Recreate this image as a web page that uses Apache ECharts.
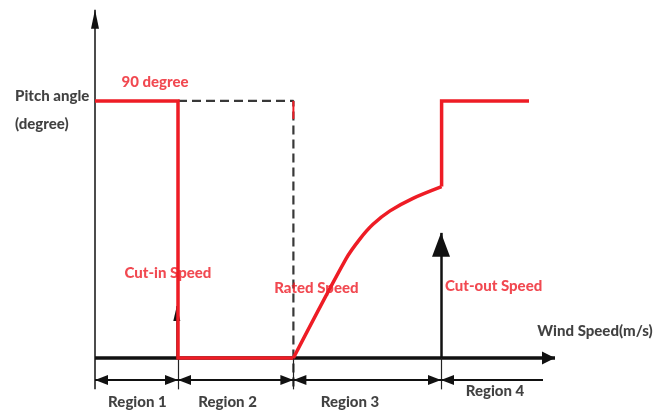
<!DOCTYPE html>
<html><head><meta charset="utf-8">
<script src="https://cdn.jsdelivr.net/npm/echarts@6/dist/echarts.min.js"></script>
<style>html,body{margin:0;padding:0;background:#fff}#c{width:663px;height:410px}</style>
</head><body><div id="c"></div>
<script>
// ---- data (schematic units: wind speed on x, pitch angle in degrees on y) ----
const cutInSpeed = 4.15;
const ratedSpeed = 9.92;
const cutOutSpeed = 17.3;
const maxPitch = 90;
const windSpeed  = [0, 4.15, 4.15, 9.92, 12.55, 13.25, 13.9, 14.75, 15.9, 17.33, 17.33, 21.7];
const pitchAngle = [90, 90, 0, 0, 34.7, 41.7, 46.8, 51.5, 55.9, 60.0, 90, 90];
const regionBounds = [0, 4.15, 9.92, 17.3, 22.4];
const regionNames = ['Region 1', 'Region 2', 'Region 3', 'Region 4'];
const regionLabelX = [2.12, 6.63, 12.75, 20.0];
const regionLabelY = [-15.4, -15.4, -15.4, -11.6];
const regionArrowY = -7.7;
const regionDividerBottom = -11;
const annotationText = ['90 degree', 'Cut-in Speed', 'Rated Speed', 'Cut-out Speed', 'Wind Speed(m/s)', 'Pitch angle', '(degree)'];
const annotationX = [3.0, 3.65, 11.07, 19.93, 25.0, -4.0, -4.0];
const annotationY = [96.6, 29.6, 24.5, 25.0, 9.3, 91.8, 82.0];
const annotationRed = [true, true, true, true, false, false, false];
const yAxisTop = 121.9;
const xAxisEnd = 23.0;
const cutInArrowTop = 18.2;
const cutOutArrowTop = 43.8;
const ratedTickBottom = 83.7;

const RED = '#ee1c25';
const BLACK = '#111';
const FONT = 'Lato';

function seg(from, to, s0, s1, size0, size1, width, color) {
  const ls = { color: color || BLACK, width: width, type: 'solid', cap: 'butt' };
  return [
    { coord: from, symbol: s0 || 'none', symbolSize: size0 || 1, symbolOffset: [0, '50%'], lineStyle: ls },
    { coord: to, symbol: s1 || 'none', symbolSize: size1 || 1, symbolOffset: [0, '50%'], lineStyle: ls }
  ];
}

const arrowLines = [];
arrowLines.push(seg([0, regionDividerBottom], [0, yAxisTop], 'none', 'triangle', 1, [8, 19], 1.5));
arrowLines.push(seg([0, 0], [xAxisEnd, 0], 'none', 'triangle', 1, [13, 13], 3.5));
arrowLines.push(seg([cutInSpeed - 0.06, 0], [cutInSpeed - 0.06, cutInArrowTop], 'none', 'triangle', 1, [7, 15], 1.5));
arrowLines.push(seg([cutOutSpeed, 0], [cutOutSpeed, cutOutArrowTop], 'none', 'triangle', 1, [18, 24], 2.5));
for (let i = 1; i < 4; i++) {
  arrowLines.push(seg([regionBounds[i], 0], [regionBounds[i], regionDividerBottom], 'none', 'none', 1, 1, 1.2, '#222'));
}
for (let i = 0; i < 4; i++) {
  const last = i === 3;
  arrowLines.push(seg([regionBounds[i], regionArrowY], [regionBounds[i + 1], regionArrowY],
    'triangle', last ? 'none' : 'triangle', [10, 13], [10, 13], 2));
}

const annotations = annotationText.map((t, i) => ({
  name: t,
  value: [annotationX[i], annotationY[i]],
  label: {
    color: annotationRed[i] ? RED : BLACK,
    align: i >= 5 ? 'left' : 'center'
  }
}));
regionNames.forEach((t, i) => annotations.push({
  name: t,
  value: [regionLabelX[i], regionLabelY[i]],
  label: { color: BLACK, align: 'center' }
}));

const pts = windSpeed.map((w, i) => [w, pitchAngle[i]]);
const redLine = { color: RED, width: 3.5, join: 'miter' };

const chart = echarts.init(document.getElementById('c'), null, { renderer: 'canvas' });
chart.setOption({
  animation: false,
  backgroundColor: '#fff',
  grid: { left: 15, right: 28, top: 1, height: 408.35 },
  xAxis: { type: 'value', min: -4, max: 27, show: false },
  yAxis: { type: 'value', min: -18, max: 125, show: false },
  series: [
    {
      name: 'frame', type: 'line', data: [], z: 2, silent: true, clip: false,
      markLine: {
        silent: true, animation: false, symbol: 'none',
        label: { show: false },
        emphasis: { disabled: true },
        data: arrowLines
      }
    },
    {
      name: 'rated dashed', type: 'line', z: 3, silent: true, clip: false, symbol: 'none',
      data: [[cutInSpeed, maxPitch], [ratedSpeed, maxPitch], [ratedSpeed, regionDividerBottom]],
      lineStyle: { color: '#383838', width: 2.2, type: [9, 5] }
    },
    {
      name: 'rated tick', type: 'line', z: 4, silent: true, clip: false, symbol: 'none',
      data: [[ratedSpeed, maxPitch], [ratedSpeed, ratedTickBottom]],
      lineStyle: { color: RED, width: 2 }
    },
    {
      name: 'pitch low', type: 'line', z: 5, silent: true, clip: false, symbol: 'none',
      data: pts.slice(0, 4), lineStyle: redLine
    },
    {
      name: 'pitch curve', type: 'line', z: 5, silent: true, clip: false, symbol: 'none',
      smooth: 0.3,
      data: pts.slice(3, 10), lineStyle: redLine
    },
    {
      name: 'pitch high', type: 'line', z: 5, silent: true, clip: false, symbol: 'none',
      data: pts.slice(9), lineStyle: redLine
    },
    {
      name: 'text', type: 'scatter', z: 6, silent: true, clip: false,
      symbolSize: 1, itemStyle: { color: 'rgba(0,0,0,0)' },
      data: annotations,
      label: {
        show: true, position: 'inside', formatter: '{b}',
        fontFamily: FONT, fontWeight: 900, fontSize: 15, verticalAlign: 'middle'
      }
    }
  ]
});
</script></body></html>
